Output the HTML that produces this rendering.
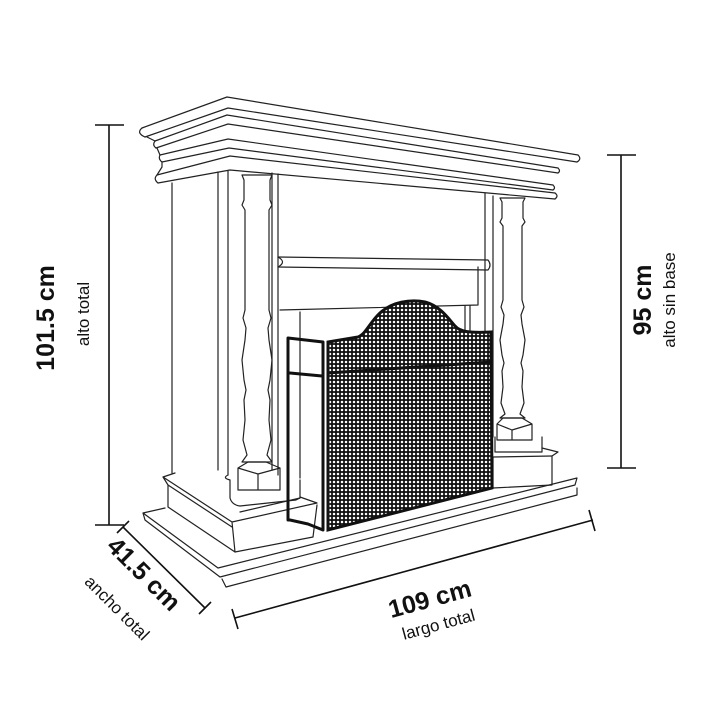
<!DOCTYPE html>
<html><head><meta charset="utf-8"><style>
html,body{margin:0;padding:0;background:#fff;}
svg{display:block}
text{font-family:"Liberation Sans",sans-serif;fill:#111}
</style></head><body>
<svg width="720" height="720" viewBox="0 0 720 720" xmlns="http://www.w3.org/2000/svg">
<defs>
<pattern id="mesh" width="4" height="4" patternUnits="userSpaceOnUse">
<rect width="4" height="4" fill="#111"/>
<circle cx="2" cy="2" r="1.25" fill="#fff"/>
</pattern>
</defs>
<g fill="none" stroke="#222" stroke-width="1.2" stroke-linejoin="round" stroke-linecap="round">
<path d="M142,128 L227,97 L578,155"/>
<path d="M145,137 L228,108 L577,162"/>
<path d="M142,128 Q136,133 145,137 M578,155 Q582,159 577,162"/>
<path d="M155,141 L227,115 L558,168"/>
<path d="M156,148 L228,124 L558,173"/>
<path d="M155,141 Q152,145 156,148 M558,168 Q561,171 558,173"/>
<path d="M160,155 L228,139 L553,185"/>
<path d="M162,162 L229,148 L553,190"/>
<path d="M160,155 Q158,159 162,162 M553,185 Q556,188 553,190"/>
<path d="M157,175 L230,156 L555,193"/>
<path d="M158,183 L230,170 L555,199"/>
<path d="M157,175 Q153,179 158,183 M555,193 Q559,196 555,199"/>
<path d="M147,137 L155,141 M157,148 L160,155 M162,162 L162,167 L157,175"/>
<path d="M172,183 L172,473"/>
<path d="M218,172 L218,470"/>
<path d="M228,171 L228,475"/>
<path d="M272,173 L272,470"/>
<path d="M278,174 L278,475"/>
<path d="M242,175 L244,180 L244,200 L242,205 L245,210 L245,310 L243,318 L246,328 L245,340 L242,360 L244,380 L246,390 L244,400 L245,420 L243,440 L247,455 L242,462 L272,462 L267,455 L271,440 L269,420 L270,400 L268,390 L270,380 L272,360 L269,340 L268,328 L271,318 L269,310 L269,210 L272,205 L270,200 L270,180 L272,175 Z"/>
<path d="M238,468 L248,462 L266,462 L280,468 L280,490 L238,490 Z M238,468 L258,474 L280,468 M258,474 L258,490"/>
<path d="M230,480 L230,498 Q232,505 240,506 L296,500 L300,498 L300,480 M228,475 Q222,478 230,480"/>
<path d="M163,477 L175,473 M163,477 L232,522 L317,503 L300,497 M163,477 L168,485 L168,507 L235,552 L313,537 L317,505 M232,522 L235,552 M168,485 L232,527 M240,512 L300,498"/>
<path d="M143,513 L165,508 M143,513 L218,568 L577,478 L575,485 L220,577 L145,520 Z"/>
<path d="M222,579 L226,587 L577,495 L577,488"/>
<path d="M278,257 L488,260 Q492,265 488,270 L278,267"/>
<path d="M278,257 Q287,262 278,267"/>
<path d="M280,310 L478,305 M478,267 L478,305 M300,312 L300,478"/>
<path d="M465,306 L465,330 M470,306 L470,330"/>
<path d="M485,193 L485,432 M493,196 L493,437"/>
<path d="M500,198 L502,202 L502,218 L500,222 L503,226 L503,300 L501,307 L504,315 L503,324 L500,340 L502,355 L504,363 L502,371 L503,387 L501,403 L505,414 L500,418 L525,418 L520,414 L524,403 L522,387 L523,371 L521,363 L523,355 L525,340 L522,324 L521,315 L524,307 L522,300 L522,226 L525,222 L523,218 L523,202 L525,198 Z"/>
<path d="M497,424 L503,418 L522,418 L532,424 L532,440 L497,440 Z M497,424 L512,430 L532,424 M512,430 L512,440"/>
<path d="M495,437 L495,452 L542,452 L542,437"/>
<path d="M493,457 L493,488 L552,485 L552,456 L558,452 L542,448"/>
<path d="M493,457 L552,456"/>
<path d="M288,338 L323,342 L323,530 L308,524 L290,520 L288,520 Z" stroke="#111" stroke-width="3"/>
<path d="M290,373 L322,376" stroke="#111" stroke-width="3"/>
</g>
<path d="M328,342 L358,337 C366,334 370,322 380,313 C392,302 410,299 425,302 C440,306 448,318 455,326 C460,332 470,333 491,332 L492,488 L328,530 Z" fill="url(#mesh)" stroke="#111" stroke-width="3"/>
<path d="M328,373 L491,362" stroke="#111" stroke-width="3"/>
<g stroke="#111" stroke-width="1.6" fill="none">
<path d="M109,125 L109,525 M95,125 L124,125 M95,525 L124,525"/>
<path d="M621,155 L621,468 M607,155 L636,155 M607,468 L636,468"/>
<path d="M123,527 L205,608 M117,533 L129,521 M199,614 L211,602"/>
<path d="M235,618 L593,520 M232,609 L238,629 M589,510 L595,531"/>
</g>
<text transform="translate(54,318) rotate(-90)" text-anchor="middle" font-size="25" font-weight="bold">101.5 cm</text>
<text transform="translate(89,314) rotate(-90)" text-anchor="middle" font-size="17">alto total</text>
<text transform="translate(651,300) rotate(-90)" text-anchor="middle" font-size="25" font-weight="bold">95 cm</text>
<text transform="translate(675,300) rotate(-90)" text-anchor="middle" font-size="17">alto sin base</text>
<text transform="translate(432,607) rotate(-15.3)" text-anchor="middle" font-size="25" font-weight="bold">109 cm</text>
<text transform="translate(440,630) rotate(-15.3)" text-anchor="middle" font-size="17">largo total</text>
<text transform="translate(138,580) rotate(45)" text-anchor="middle" font-size="25" font-weight="bold">41.5 cm</text>
<text transform="translate(113,612) rotate(45)" text-anchor="middle" font-size="17">ancho total</text>
</svg>
</body></html>
